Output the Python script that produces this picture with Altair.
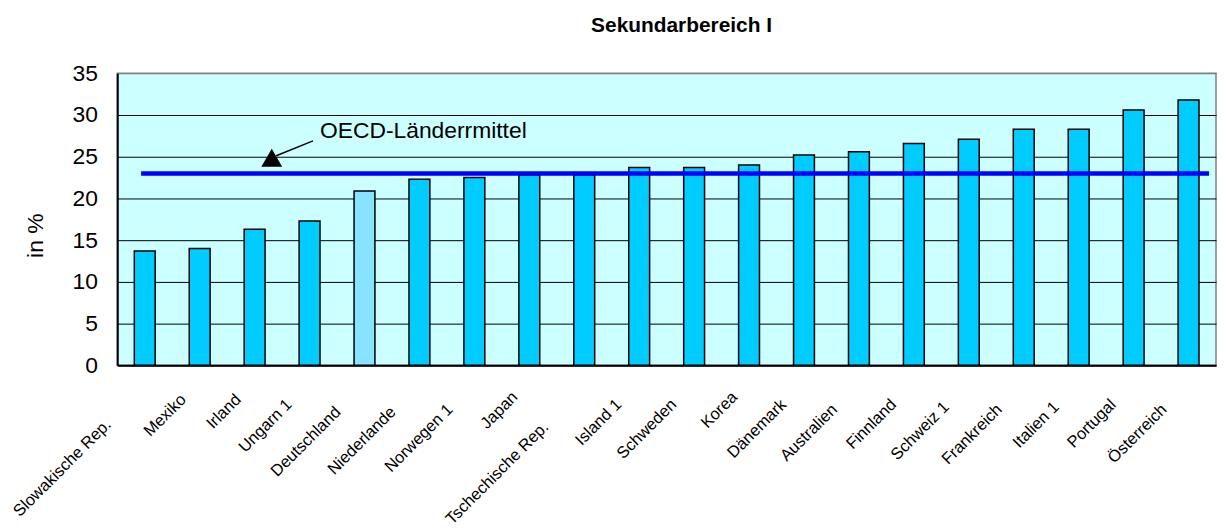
import altair as alt
import pandas as pd

# ---- data ----
laender = ["Slowakische Rep.", "Mexiko", "Irland", "Ungarn 1", "Deutschland",
           "Niederlande", "Norwegen 1", "Japan", "Tschechische Rep.", "Island 1",
           "Schweden", "Korea", "Dänemark", "Australien", "Finnland",
           "Schweiz 1", "Frankreich", "Italien 1", "Portugal", "Österreich"]
werte = [13.7, 14.0, 16.3, 17.3, 20.9, 22.3, 22.5, 22.8, 22.8, 23.7,
         23.7, 24.0, 25.2, 25.6, 26.6, 27.1, 28.3, 28.3, 30.6, 31.8]
oecd_mittel = 23.0
y_ticks = [0, 5, 10, 15, 20, 25, 30, 35]
hervorgehoben = "Deutschland"
titel = "Sekundarbereich I"
y_titel = "in %"
anmerkung = "OECD-Länderrmittel"

FONT = "Liberation Sans, Arial, Helvetica, sans-serif"
W, H = 1106, 294

df = pd.DataFrame({"land": laender, "wert": werte})

x_scale = alt.Scale(paddingInner=0.62, paddingOuter=0.31)
y_scale = alt.Scale(domain=[0, 35], nice=False)

x_enc = alt.X(
    "land:N", sort=laender, title=None, scale=x_scale,
    axis=alt.Axis(labels=False, ticks=False, tickSize=0,
                  domainColor="black", domainWidth=2, grid=False),
)
y_enc = alt.Y(
    "wert:Q", title=y_titel, scale=y_scale,
    axis=alt.Axis(values=y_ticks, ticks=False, tickSize=0, labelPadding=20,
                  labelFontSize=23, labelFont=FONT, labelColor="black",
                  domainColor="black", domainWidth=2,
                  grid=True, gridWidth=1,
                  gridColor={"condition": {"test": "datum.value === 35", "value": "#808080"},
                             "value": "black"},
                  titleFont=FONT, titleFontSize=23, titleFontWeight="normal",
                  titleColor="black", titleAngle=-90, titleX=-82, titleY=163,
                  titleAlign="center", titleBaseline="middle"),
)

bars = alt.Chart(df).mark_bar(stroke="black", strokeWidth=1.5).encode(
    x=x_enc,
    y=y_enc,
    color=alt.condition(alt.datum.land == hervorgehoben,
                        alt.value("#87E3FF"), alt.value("#00CCFF")),
)

# category labels, staggered the way the original spreadsheet chart lays them out
kat_labels = alt.Chart(df).mark_text(
    font=FONT, fontSize=16.5, color="black", angle=315,
    align="right", baseline="middle",
    dx=alt.ExprRef("-15 - 3.2 * length(datum.land)"),
    dy=alt.ExprRef("9 + 0.34 * length(datum.land)"),
).encode(
    x=alt.X("land:N", sort=laender, scale=x_scale),
    y=alt.value(H),
    text="land:N",
)

mittel = alt.Chart(pd.DataFrame({"oecd": [oecd_mittel]})).mark_rule(
    color="#0000FF", strokeWidth=4.5
).encode(
    y=alt.Y("oecd:Q", scale=y_scale),
    x=alt.value(24), x2=alt.value(W - 7),
)

label = alt.Chart(pd.DataFrame({"t": [anmerkung]})).mark_text(
    font=FONT, fontSize=23, align="left", baseline="alphabetic", color="black"
).encode(text="t:N", x=alt.value(204), y=alt.value(65))

pfeil = alt.Chart(pd.DataFrame({"a": [0]})).mark_rule(
    color="black", strokeWidth=1.5
).encode(x=alt.value(197), y=alt.value(68), x2=alt.value(160), y2=alt.value(83))

spitze = alt.Chart(pd.DataFrame({"a": [0]})).mark_point(
    shape="triangle-up", size=441, filled=True, color="black", opacity=1
).encode(x=alt.value(155.5), y=alt.value(85))

kopf = alt.Chart(pd.DataFrame({"t": [titel]})).mark_text(
    font=FONT, fontSize=21, fontWeight="bold", align="center",
    baseline="alphabetic", color="black"
).encode(text="t:N", x=alt.value(568), y=alt.value(-42))

chart = alt.layer(bars, kat_labels, mittel, pfeil, spitze, label, kopf).properties(
    width=W, height=H,
    autosize=alt.AutoSizeParams(type="none"),
    padding={"left": 110, "top": 64, "right": 2, "bottom": 164},
).configure_view(fill="#CCFFFF", stroke="#808080", strokeWidth=1.5)

chart.save("out.html", embed_options={"renderer": "svg", "actions": False})
